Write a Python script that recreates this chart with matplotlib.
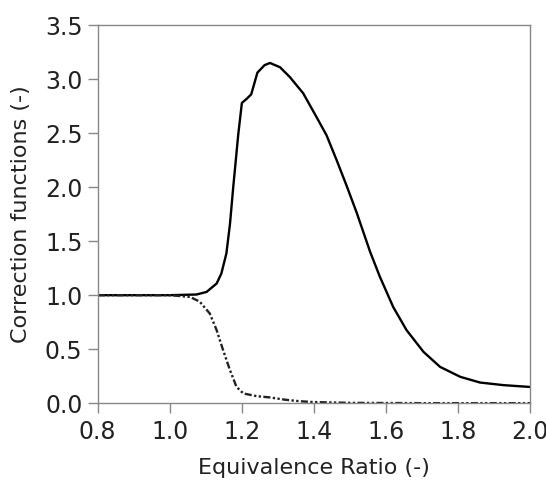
import numpy as np
import matplotlib.pyplot as plt

# Solid curve (upper correction function)
phi_a = [0.80, 0.90, 0.944, 1.00, 1.074, 1.102, 1.130, 1.143, 1.157, 1.167, 1.176,
         1.19, 1.20, 1.214, 1.226, 1.243, 1.263, 1.278, 1.306, 1.333, 1.370, 1.407,
         1.435, 1.463, 1.491, 1.519, 1.556, 1.583, 1.620, 1.657, 1.704, 1.75,
         1.806, 1.861, 1.926, 2.0]
corr_a = [1.0, 1.0, 1.0, 1.0, 1.006, 1.03, 1.108, 1.20, 1.386, 1.66, 2.0,
          2.49, 2.78, 2.82, 2.86, 3.06, 3.13, 3.15, 3.11, 3.02, 2.87, 2.65,
          2.48, 2.25, 2.01, 1.76, 1.40, 1.17, 0.89, 0.676, 0.475, 0.336,
          0.244, 0.191, 0.167, 0.15]

# Dash-dot-dot curve (lower correction function)
phi_b = [0.80, 0.90, 1.00, 1.056, 1.083, 1.111, 1.130, 1.148, 1.167, 1.185, 1.204,
         1.241, 1.278, 1.32, 1.36, 1.40, 1.50, 1.70, 2.0]
corr_b = [1.0, 1.0, 1.0, 0.984, 0.94, 0.83, 0.676, 0.49, 0.306, 0.151, 0.09,
          0.065, 0.053, 0.032, 0.018, 0.01, 0.003, 0.0, 0.0]

fig = plt.figure(figsize=(5.46, 4.84), dpi=100)
ax = fig.add_axes([0.179, 0.167, 0.792, 0.781])

ax.plot(phi_a, corr_a, color='black', linewidth=1.7, solid_joinstyle='round')
ax.plot(phi_b, corr_b, color='#222222', linewidth=1.7,
        linestyle=(0, (3, 1, 1, 1, 1, 1)))

ax.set_xlim(0.8, 2.0)
ax.set_ylim(0.0, 3.5)
ax.set_xticks(np.arange(0.8, 2.01, 0.2))
ax.set_yticks(np.arange(0.0, 3.51, 0.5))
ax.xaxis.set_major_formatter(plt.FormatStrFormatter('%.1f'))
ax.yaxis.set_major_formatter(plt.FormatStrFormatter('%.1f'))

for s in ax.spines.values():
    s.set_color('#888888')
    s.set_linewidth(1.0)
ax.tick_params(direction='out', length=7, width=1.0, color='#888888',
               labelsize=17, labelcolor='#222222')
ax.tick_params(axis='x', pad=5)
ax.tick_params(axis='y', pad=4)

ax.set_xlabel('Equivalence Ratio (-)', fontsize=16, color='#222222', labelpad=10)
ax.set_ylabel('Correction functions (-)', fontsize=16, color='#222222', labelpad=10)

fig.savefig('out.png', dpi=100)
